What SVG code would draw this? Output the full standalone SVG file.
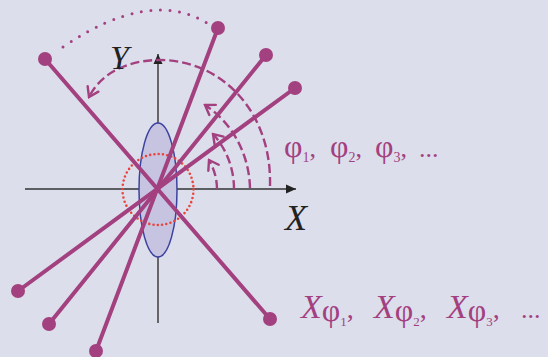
<svg xmlns="http://www.w3.org/2000/svg" width="548" height="357" viewBox="0 0 548 357">
<style>
.axis{stroke:#333;stroke-width:1.4;fill:none}
.rod{stroke:#a3407f;stroke-width:4;stroke-linecap:round}
.end{fill:#a3407f}
.dash{stroke:#a3407f;stroke-width:2.4;fill:none;stroke-dasharray:9 4}
.chev{stroke:#a3407f;stroke-width:2.4;fill:none;stroke-dasharray:none;stroke-linecap:round;stroke-linejoin:miter}
.lbl{font-family:"Liberation Serif","Times New Roman",serif;font-style:italic;fill:#222}
.mg{font-family:"Liberation Serif","Times New Roman",serif;fill:#a3407f}
</style>
<defs>
<marker id="chev" markerUnits="userSpaceOnUse" viewBox="-12 -8 14 16" refX="0" refY="0" markerWidth="14" markerHeight="16" orient="auto">
<path class="chev" d="M-9,-6 L0,0 L-9,6"/>
</marker>
<marker id="tri" markerUnits="userSpaceOnUse" viewBox="-10 -5 11 10" refX="0" refY="0" markerWidth="11" markerHeight="10" orient="auto">
<path d="M-10,-4.5 L0,0 L-10,4.5 Z" fill="#222"/>
</marker>
</defs>
<rect x="0" y="0" width="548" height="357" fill="#dcdeeb"/>
<g id="axes">
<line class="axis" x1="25" y1="189" x2="296" y2="189" marker-end="url(#tri)"/>
<line class="axis" x1="158" y1="323" x2="158" y2="54" marker-end="url(#tri)"/>
</g>
<g id="sample">
<ellipse cx="158" cy="190" rx="19" ry="67" fill="#c6c4e1" stroke="#3c42a0" stroke-width="1.5"/>
</g>
<g id="focus">
<circle cx="158" cy="189.5" r="35.5" fill="none" stroke="#e8453c" stroke-width="2.6" stroke-linecap="round" stroke-dasharray="0 4.3"/>
</g>
<g id="connectors">
<path class="dash" d="M217,189 A59,59 0 0 0 209,160" marker-end="url(#chev)"/>
<path class="dash" d="M234,189 A77,80 0 0 0 213,134" marker-end="url(#chev)"/>
<path class="dash" d="M250,188 A93,100 0 0 0 205,105" marker-end="url(#chev)"/>
<path class="dash" d="M270,186 C272,110 220,60 160,60 C125,60 100,75 89,97" marker-end="url(#chev)"/>
<path d="M63,47 Q150,-12 207,23" fill="none" stroke="#a3407f" stroke-width="3" stroke-linecap="round" stroke-dasharray="0 9.6"/>
</g>
<g id="rod1">
<line class="rod" x1="45" y1="59" x2="270" y2="319"/>
<circle class="end" cx="45" cy="59" r="7"/>
<circle class="end" cx="270" cy="319" r="7"/>
</g>
<g id="rod2">
<line class="rod" x1="218" y1="28" x2="96" y2="351"/>
<circle class="end" cx="218" cy="28" r="7"/>
<circle class="end" cx="96" cy="351" r="7"/>
</g>
<g id="rod3">
<line class="rod" x1="266" y1="55" x2="49" y2="324"/>
<circle class="end" cx="266" cy="55" r="7"/>
<circle class="end" cx="49" cy="324" r="7"/>
</g>
<g id="rod4">
<line class="rod" x1="295" y1="88" x2="18" y2="291"/>
<circle class="end" cx="295" cy="88" r="7"/>
<circle class="end" cx="18" cy="291" r="7"/>
</g>
<g id="labels">
<text class="lbl" x="110" y="69" font-size="34">Y</text>
<text class="lbl" x="285" y="230" font-size="36">X</text>
<text class="mg" font-size="32"><tspan x="284" y="157">φ</tspan><tspan font-size="14" dy="5">1</tspan><tspan dy="-5" font-size="26">,</tspan></text>
<text class="mg" font-size="32"><tspan x="330" y="157">φ</tspan><tspan font-size="14" dy="5">2</tspan><tspan dy="-5" font-size="26">,</tspan></text>
<text class="mg" font-size="32"><tspan x="375" y="157">φ</tspan><tspan font-size="14" dy="5">3</tspan><tspan dy="-5" font-size="26">,</tspan></text>
<text class="mg" font-size="26" x="419" y="157">...</text>
<text class="mg" font-size="34"><tspan x="301" y="318" font-style="italic">X</tspan><tspan font-size="32" dy="3">φ</tspan><tspan font-size="13" dy="5">1</tspan><tspan dy="-8" font-size="28">,</tspan></text>
<text class="mg" font-size="34"><tspan x="374" y="318" font-style="italic">X</tspan><tspan font-size="32" dy="3">φ</tspan><tspan font-size="13" dy="5">2</tspan><tspan dy="-8" font-size="28">,</tspan></text>
<text class="mg" font-size="34"><tspan x="447" y="318" font-style="italic">X</tspan><tspan font-size="32" dy="3">φ</tspan><tspan font-size="13" dy="5">3</tspan><tspan dy="-8" font-size="28">,</tspan></text>
<text class="mg" font-size="26" x="521" y="318">...</text>
</g>
</svg>
